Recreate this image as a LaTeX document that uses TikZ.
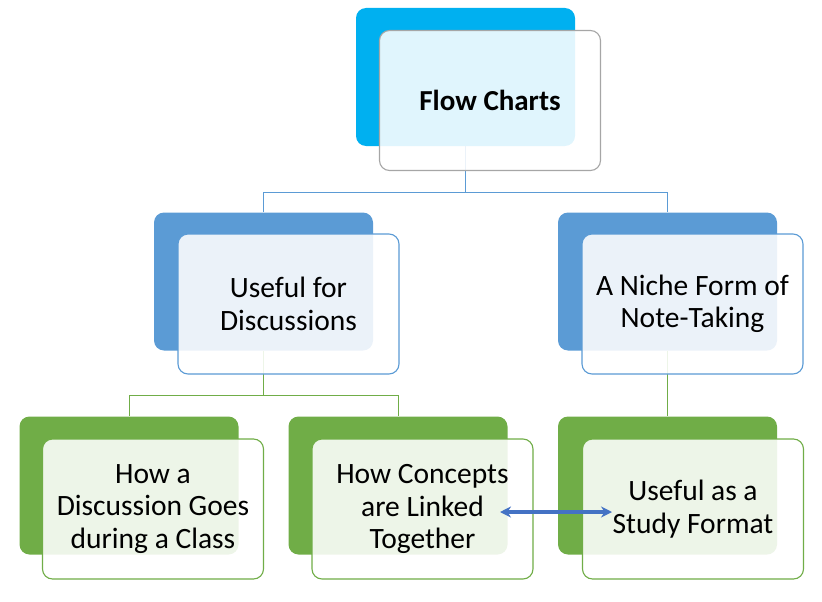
\documentclass[tikz,border=0pt]{standalone}
\usepackage{fontspec}
\setmainfont{Carlito}
\usetikzlibrary{arrows.meta}
\definecolor{cTop}{HTML}{00B0F0}
\definecolor{cMid}{HTML}{5B9BD5}
\definecolor{cLow}{HTML}{70AD47}
\definecolor{cGray}{HTML}{A6A6A6}
\definecolor{cArrow}{HTML}{4472C4}
\begin{document}
\begin{tikzpicture}[x=1pt,y=-1pt,
  backbox/.style={rounded corners=10pt, minimum width=219pt, minimum height=138pt, inner sep=0pt, fill=#1},
  frontbox/.style={rounded corners=10pt, minimum width=221pt, minimum height=140pt, inner sep=0pt,
     draw=#1, line width=1.1pt, fill=white, fill opacity=0.88, text opacity=1, align=center,
     font=\fontsize{29.5}{32.5}\selectfont},
  link/.style={line width=1pt, draw=#1}]
\useasboundingbox (0,0) rectangle (822,602);
% coordinates of back boxes (centers)
\coordinate (ctb) at (465.5,77);
\coordinate (clb) at (263.5,281.5);
\coordinate (crb) at (667.5,281.5);
\coordinate (c1b) at (129,485.5);
\coordinate (c2b) at (398,485.5);
\coordinate (c3b) at (667.5,485.5);
\coordinate (j1) at (0,192);
\coordinate (j2) at (0,395);
% back boxes
\node[backbox=cTop] (tb) at (ctb) {};
\node[backbox=cMid] (lb) at (clb) {};
\node[backbox=cMid] (rb) at (crb) {};
\node[backbox=cLow] (b1) at (c1b) {};
\node[backbox=cLow] (b2) at (c2b) {};
\node[backbox=cLow] (b3) at (c3b) {};
% connectors (under front boxes)
\draw[link=cMid] (tb.south) -- (tb.south |- j1) -| (lb.north);
\draw[link=cMid] (tb.south |- j1) -| (rb.north);
\draw[link=cLow] (lb.south) -- (lb.south |- j2) -| (b1.north);
\draw[link=cLow] (lb.south |- j2) -| (b2.north);
\draw[link=cLow] (rb.south) -- (b3.north);
% front boxes
\node[frontbox=cGray, font=\fontsize{29}{32}\selectfont\bfseries] (tf) at (490,100.5) {Flow Charts};
\node[frontbox=cMid] (lf) at (288.5,304) {Useful for\\Discussions};
\node[frontbox=cMid] (rf) at (692.5,304) {A Niche Form of\\Note-Taking};
\node[frontbox=cLow] (f1) at (153,509) {How a\\Discussion Goes\\during a Class};
\node[frontbox=cLow] (f2) at (422.5,509) {How Concepts\\are Linked\\Together};
\node[frontbox=cLow] (f3) at (693,509) {Useful as a\\Study Format};
% arrow
\coordinate (a1) at (500,512);
\coordinate (a2) at (612,512);
\draw[cArrow, line width=3.4pt, {Stealth[length=11pt,width=11pt]}-{Stealth[length=11pt,width=11pt]}] (a1) -- (a2);
\end{tikzpicture}
\end{document}
